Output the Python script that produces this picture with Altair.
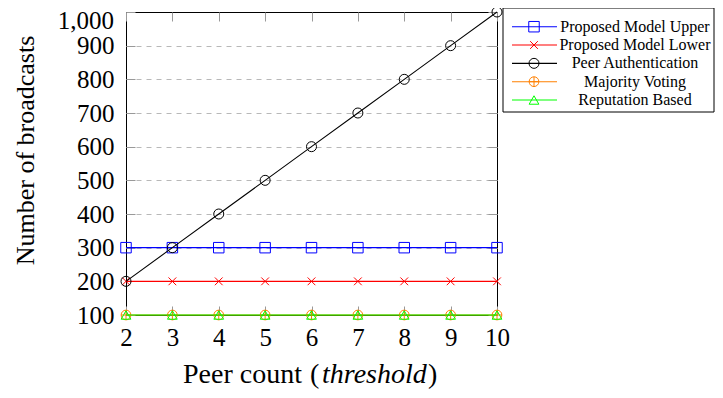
import altair as alt
import pandas as pd

# ---- data ----
peer_count = [2, 3, 4, 5, 6, 7, 8, 9, 10]
upper = [300, 300, 300, 300, 300, 300, 300, 300, 300]
lower = [200, 200, 200, 200, 200, 200, 200, 200, 200]
peer_auth = [200, 300, 400, 500, 600, 700, 800, 900, 1000]
majority = [100, 100, 100, 100, 100, 100, 100, 100, 100]
reputation = [100, 100, 100, 100, 100, 100, 100, 100, 100]

series_names = ["Proposed Model Upper", "Proposed Model Lower",
                "Peer Authentication", "Majority Voting", "Reputation Based"]
series_values = [upper, lower, peer_auth, majority, reputation]

x_ticks = [2, 3, 4, 5, 6, 7, 8, 9, 10]
y_ticks = [100, 200, 300, 400, 500, 600, 700, 800, 900, 1000]
y_label_ticks = [100, 200, 300, 400, 500, 600, 700, 800, 900]
y_top_label = [1000]
grid_ticks = [200, 300, 400, 500, 600, 700, 800, 900]

# ---- styles ----
colors = ["#0000ff", "#ff0000", "#000000", "#ff8000", "#00ff00"]
shapes = ["square", "M-1,-1L1,1M-1,1L1,-1", "circle",
          "M-1,0A1,1,0,1,1,1,0A1,1,0,1,1,-1,0ZM-1,0L1,0M0,-1L0,1",
          "triangle-up"]
sizes = [110, 60, 100, 95, 95]

rows = []
for name, vals in zip(series_names, series_values):
    for xv, v in zip(peer_count, vals):
        rows.append({"peer": xv, "value": v, "series": name})
df = pd.DataFrame(rows)
leg_df = pd.DataFrame({"series": series_names})
top_df = pd.DataFrame({"value": y_top_label})
one = pd.DataFrame({"a": [0]})

W, H = 371, 303
FONT = "Liberation Serif"
TICK_FS = 25

xs = alt.Scale(domain=[2, 10], nice=False, zero=False)
ys = alt.Scale(domain=[100, 1000], nice=False, zero=False)
cs = alt.Scale(domain=series_names, range=colors)

tick_common = dict(labels=False, domain=False, grid=False, ticks=True,
                   tickSize=9, tickColor="#999999", tickWidth=1, title=None)

ax_x_labels = alt.Axis(orient="bottom", values=x_ticks, format="d", ticks=False,
                       domain=False, grid=False, labelFont=FONT, labelFontSize=TICK_FS,
                       labelColor="black", labelPadding=10, labelFlush=False,
                       title=None)
ax_y_labels = alt.Axis(orient="left", values=y_label_ticks, format=",d", ticks=False,
                       domain=False, grid=False, labelFont=FONT, labelFontSize=TICK_FS,
                       labelColor="black", labelPadding=12, labelFlush=False,
                       title="Number of broadcasts", titleFont=FONT, titleFontSize=26,
                       titleFontWeight="normal", titleColor="black",
                       titleX=-93, titleY=138, titleAngle=270,
                       titleBaseline="alphabetic", titleAlign="center")
ax_x_bottom_ticks = alt.Axis(orient="top", offset=-H, values=x_ticks, **tick_common)
ax_x_top_ticks = alt.Axis(orient="bottom", offset=-H, values=x_ticks, **tick_common)
ax_y_left_ticks = alt.Axis(orient="right", offset=-W, values=y_ticks, **tick_common)
ax_y_right_ticks = alt.Axis(orient="left", offset=-W, values=y_ticks, **tick_common)
ax_y_grid = alt.Axis(orient="left", values=grid_ticks, labels=False, ticks=False,
                     domain=False, grid=True, gridColor="#b8b8b8", gridDash=[5, 5],
                     gridWidth=1, title=None)

axis_plan = {
    0: (ax_x_labels, ax_y_labels),
    1: (ax_x_bottom_ticks, ax_y_left_ticks),
    2: (ax_x_top_ticks, ax_y_right_ticks),
    3: (None, ax_y_grid),
}

layers = []
k = 0
for i, name in enumerate(series_names):
    base = alt.Chart(df).transform_filter(alt.datum.series == name)
    for kind in ("line", "point"):
        xa, ya = axis_plan.get(k, (None, None))
        enc = dict(
            x=alt.X("peer:Q", scale=xs, axis=xa),
            y=alt.Y("value:Q", scale=ys, axis=ya),
            color=alt.Color("series:N", scale=cs, legend=None),
        )
        if kind == "line":
            m = base.mark_line(strokeWidth=1.1)
        else:
            m = base.mark_point(filled=False, shape=shapes[i], size=sizes[i],
                                strokeWidth=1, opacity=1)
        layers.append(m.encode(**enc))
        k += 1

# top tick label (kept inside the page)
top_label = alt.Chart(top_df).mark_text(align="right", baseline="middle", font=FONT,
                                        fontSize=TICK_FS, color="black", dy=9).encode(
    x=alt.value(-12),
    y=alt.Y("value:Q", scale=ys, axis=None),
    text=alt.Text("value:Q", format=",d"))
layers.append(top_label)

main = alt.layer(*layers).resolve_axis(x="independent", y="independent")

# ---- legend ----
ly = alt.Scale(type="point", domain=series_names, range=[14.7, 88], padding=0)
box = alt.Chart(one).mark_rect(fill="white", stroke="black", strokeWidth=1).encode(
    x=alt.value(377), x2=alt.value(588), y=alt.value(-4), y2=alt.value(100))
leg_rule = alt.Chart(leg_df).mark_rule(strokeWidth=1.1).encode(
    x=alt.value(386), x2=alt.value(431),
    y=alt.Y("series:N", scale=ly, axis=None),
    color=alt.Color("series:N", scale=cs, legend=None))
leg_points = []
for i, name in enumerate(series_names):
    leg_points.append(
        alt.Chart(leg_df).transform_filter(alt.datum.series == name)
        .mark_point(filled=False, shape=shapes[i], size=sizes[i], strokeWidth=1, opacity=1)
        .encode(x=alt.value(408), y=alt.Y("series:N", scale=ly, axis=None),
                color=alt.Color("series:N", scale=cs, legend=None)))
leg_text = alt.Chart(leg_df).mark_text(align="center", baseline="middle", font=FONT,
                                       fontSize=16, color="black").encode(
    x=alt.value(509), y=alt.Y("series:N", scale=ly, axis=None), text="series:N")

legend = alt.layer(box, leg_rule, *leg_points, leg_text)

# ---- x title with italic part ----
def title_piece(txt, xpos, italic=False):
    kw = dict(align="left", baseline="alphabetic", font=FONT, fontSize=28, color="black")
    if italic:
        kw["fontStyle"] = "italic"
    return alt.Chart(one).mark_text(**kw).encode(
        x=alt.value(xpos), y=alt.value(371), text=alt.value(txt))

t1 = title_piece("Peer count", 57)
t2 = title_piece("(", 184)
t3 = title_piece("threshold", 196, italic=True)
t4 = title_piece(")", 302)

chart = alt.layer(main, legend, t1, t2, t3, t4).resolve_scale(y="independent").properties(
    width=W, height=H,
    autosize=alt.AutoSizeParams(type="none"),
    padding={"left": 118, "top": 4, "right": 218, "bottom": 75},
    background="white",
).configure_view(stroke="black", strokeWidth=1)

chart.save("out.html", embed_options={"renderer": "svg", "actions": False})
